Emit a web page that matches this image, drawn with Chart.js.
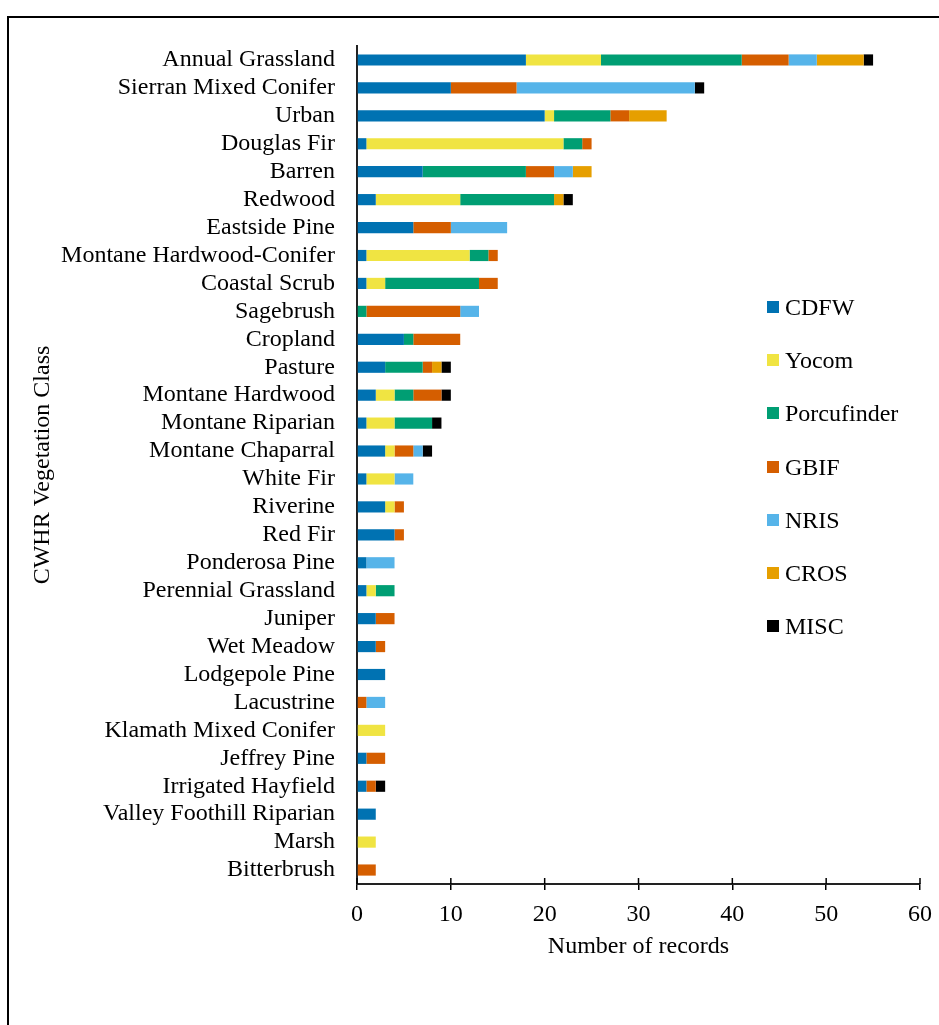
<!DOCTYPE html>
<html>
<head>
<meta charset="utf-8">
<script src="https://cdn.jsdelivr.net/npm/chart.js@4.4.1/dist/chart.umd.min.js"></script>
<style>
  body { margin: 0; background: #fff; overflow: hidden; }
  #frame { position: absolute; left: 7px; top: 16px; width: 1000px; height: 1100px; border: 2.5px solid #000; }
  #chart { position: absolute; left: 0; top: 0; }
  #legend { position: absolute; left: 767px; top: 0; font-family: "Liberation Serif", serif; font-size: 24px; color: #000; }
  .item { position: absolute; left: 0; white-space: nowrap; height: 28px; line-height: 28px; }
  .box { position: absolute; left: 0; top: 8px; width: 12px; height: 12px; }
  .txt { position: absolute; left: 18px; top: 0; }
</style>
</head>
<body>
<div id="frame"></div>
<canvas id="chart" width="939" height="1025"></canvas>
<div id="legend"></div>
<script>
const classes = ['Annual Grassland', 'Sierran Mixed Conifer', 'Urban', 'Douglas Fir', 'Barren', 'Redwood',
    'Eastside Pine', 'Montane Hardwood-Conifer', 'Coastal Scrub', 'Sagebrush', 'Cropland', 'Pasture',
    'Montane Hardwood', 'Montane Riparian', 'Montane Chaparral', 'White Fir', 'Riverine', 'Red Fir',
    'Ponderosa Pine', 'Perennial Grassland', 'Juniper', 'Wet Meadow', 'Lodgepole Pine', 'Lacustrine',
    'Klamath Mixed Conifer', 'Jeffrey Pine', 'Irrigated Hayfield', 'Valley Foothill Riparian', 'Marsh', 'Bitterbrush'];

const cdfw        = [18, 10, 20, 1, 7, 2, 6, 1, 1, 0, 5, 3, 2, 1, 3, 1, 3, 4, 1, 1, 2, 2, 3, 0, 0, 1, 1, 2, 0, 0];
const yocom       = [8, 0, 1, 21, 0, 9, 0, 11, 2, 0, 0, 0, 2, 3, 1, 3, 1, 0, 0, 1, 0, 0, 0, 0, 3, 0, 0, 0, 2, 0];
const porcufinder = [15, 0, 6, 2, 11, 10, 0, 2, 10, 1, 1, 4, 2, 4, 0, 0, 0, 0, 0, 2, 0, 0, 0, 0, 0, 0, 0, 0, 0, 0];
const gbif        = [5, 7, 2, 1, 3, 0, 4, 1, 2, 10, 5, 1, 3, 0, 2, 0, 1, 1, 0, 0, 2, 1, 0, 1, 0, 2, 1, 0, 0, 2];
const nris        = [3, 19, 0, 0, 2, 0, 6, 0, 0, 2, 0, 0, 0, 0, 1, 2, 0, 0, 3, 0, 0, 0, 0, 2, 0, 0, 0, 0, 0, 0];
const cros        = [5, 0, 4, 0, 2, 1, 0, 0, 0, 0, 0, 1, 0, 0, 0, 0, 0, 0, 0, 0, 0, 0, 0, 0, 0, 0, 0, 0, 0, 0];
const misc        = [1, 1, 0, 0, 0, 1, 0, 0, 0, 0, 0, 1, 1, 1, 1, 0, 0, 0, 0, 0, 0, 0, 0, 0, 0, 0, 1, 0, 0, 0];

const sourceNames = ['CDFW', 'Yocom', 'Porcufinder', 'GBIF', 'NRIS', 'CROS', 'MISC'];
const sourceColors = ['#0072B2', '#F0E442', '#009E73', '#D55E00', '#56B4E9', '#E69F00', '#000000'];
const sourceData = [cdfw, yocom, porcufinder, gbif, nris, cros, misc];

const serif = '"Liberation Serif", "Times New Roman", serif';

// ticks in the picture cross the axis line, chart.js only draws the lower half
const crossTicks = {
    id: 'crossTicks',
    afterDraw(chart) {
        const x = chart.scales.x;
        const ctx = chart.ctx;
        const bottom = chart.chartArea.bottom;
        ctx.save();
        ctx.strokeStyle = '#000';
        ctx.lineWidth = 1.5;
        x.ticks.forEach(t => {
            const px = x.getPixelForValue(t.value);
            ctx.beginPath();
            ctx.moveTo(px, bottom - 6);
            ctx.lineTo(px, bottom);
            ctx.stroke();
        });
        ctx.restore();
    }
};

new Chart(document.getElementById('chart'), {
    type: 'bar',
    data: {
        labels: classes,
        datasets: sourceNames.map((name, i) => ({
            label: name,
            data: sourceData[i],
            backgroundColor: sourceColors[i],
            borderWidth: 0,
            barPercentage: 0.4,
            categoryPercentage: 1
        }))
    },
    options: {
        indexAxis: 'y',
        responsive: false,
        animation: false,
        layout: { padding: { left: 20, top: 46, right: 19, bottom: 0 } },
        plugins: { legend: { display: false }, tooltip: { enabled: false } },
        scales: {
            x: {
                stacked: true,
                min: 0,
                max: 60,
                ticks: { stepSize: 10, color: '#000', font: { family: serif, size: 24 }, padding: 10 },
                grid: { drawOnChartArea: false, drawTicks: true, tickLength: 6, color: '#000', lineWidth: 1.5 },
                border: { color: '#222', width: 2 },
                title: { display: true, text: 'Number of records', color: '#000', font: { family: serif, size: 24 }, padding: { top: 0, bottom: 64 } },
                afterFit: scale => {
                    scale.height = 1025 - 884;
                    scale.paddingLeft = 0;
                    scale.paddingRight = 0;
                }
            },
            y: {
                stacked: true,
                ticks: { color: '#000', font: { family: serif, size: 24 }, padding: 22, autoSkip: false },
                grid: { display: true, drawOnChartArea: false, drawTicks: false },
                border: { color: '#222', width: 2 },
                title: { display: true, text: 'CWHR Vegetation Class', color: '#000', font: { family: serif, size: 24 }, padding: { top: 8, bottom: 0 } },
                afterFit: scale => { scale.width = 357 - 20; }
            }
        }
    },
    plugins: [crossTicks]
});

const legend = document.getElementById('legend');
sourceNames.forEach((name, i) => {
    const item = document.createElement('div');
    item.className = 'item';
    item.style.top = (307 - 14 + i * 53.2) + 'px';
    item.innerHTML = `<span class="box" style="background:${sourceColors[i]}"></span><span class="txt">${name}</span>`;
    legend.appendChild(item);
});
</script>
</body>
</html>
